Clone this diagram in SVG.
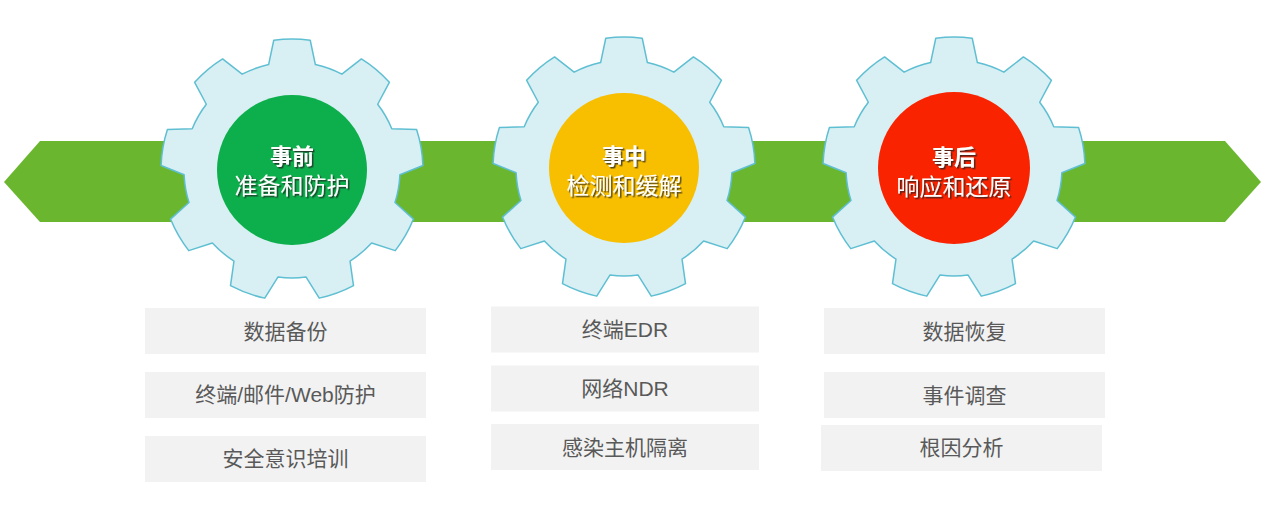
<svg xmlns="http://www.w3.org/2000/svg" width="1269" height="505" viewBox="0 0 1269 505">
<style>
.gear{fill:#d8eff4;stroke:#5fbfd2;stroke-width:1.5;stroke-linejoin:round}
.band{fill:#6ab72f}
.t1{font-family:"Noto Sans CJK SC","Liberation Sans",sans-serif;font-size:22px;font-weight:bold;fill:#ffffff;text-anchor:middle}
.t2{font-family:"Noto Sans CJK SC","Liberation Sans",sans-serif;font-size:23px;fill:#ffffff;text-anchor:middle}
.box{fill:#f2f2f2}
.bt{font-family:"Liberation Sans","Noto Sans CJK SC",sans-serif;font-size:21px;fill:#595959;text-anchor:middle}
</style>
<defs>
<path id="gearShape" d="M -23.38 -105.44 L -18.23 -129.73 A 131 131 0 0 1 18.23 -129.73 L 23.38 -105.44 A 108 108 0 0 1 49.87 -95.80 L 69.42 -111.09 A 131 131 0 0 1 97.35 -87.66 L 85.68 -65.75 A 108 108 0 0 1 99.78 -41.33 L 124.59 -40.48 A 131 131 0 0 1 130.92 -4.57 L 107.90 4.71 A 108 108 0 0 1 103.00 32.48 L 121.46 49.07 A 131 131 0 0 1 103.23 80.65 L 79.63 72.96 A 108 108 0 0 1 58.03 91.09 L 61.50 115.67 A 131 131 0 0 1 27.24 128.14 L 14.10 107.08 A 108 108 0 0 1 -14.10 107.08 L -27.24 128.14 A 131 131 0 0 1 -61.50 115.67 L -58.03 91.09 A 108 108 0 0 1 -79.63 72.96 L -103.23 80.65 A 131 131 0 0 1 -121.46 49.07 L -103.00 32.48 A 108 108 0 0 1 -107.90 4.71 L -130.92 -4.57 A 131 131 0 0 1 -124.59 -40.48 L -99.78 -41.33 A 108 108 0 0 1 -85.68 -65.75 L -97.35 -87.66 A 131 131 0 0 1 -69.42 -111.09 L -49.87 -95.80 A 108 108 0 0 1 -23.38 -105.44 Z"/>
<filter id="sh" x="-20%" y="-40%" width="140%" height="180%">
<feDropShadow dx="1.5" dy="1.5" stdDeviation="0.7" flood-color="#222222" flood-opacity="0.75"/>
</filter>
</defs>
<rect x="0" y="0" width="1269" height="505" fill="#ffffff"/>
<g id="connectors">
<polygon class="band" points="4,182 40,141 1225,141 1261,182 1225,222 40,222"/>
</g>
<g id="gear1">
<use href="#gearShape" class="gear" transform="translate(292,170)"/>
<circle cx="292" cy="170" r="75" fill="#0daf4c"/>
<g filter="url(#sh)">
<text class="t1" x="292" y="164">事前</text>
<text class="t2" x="292" y="194">准备和防护</text>
</g>
</g>
<g id="gear2">
<use href="#gearShape" class="gear" transform="translate(624,168)"/>
<circle cx="624" cy="168" r="75" fill="#f8be00"/>
<g filter="url(#sh)">
<text class="t1" x="624" y="164">事中</text>
<text class="t2" x="624" y="194">检测和缓解</text>
</g>
</g>
<g id="gear3">
<use href="#gearShape" class="gear" transform="translate(954,168)"/>
<circle cx="954" cy="168" r="76" fill="#fa2300"/>
<g filter="url(#sh)">
<text class="t1" x="954" y="165">事后</text>
<text class="t2" x="954" y="195">响应和还原</text>
</g>
</g>
<g id="box-l1"><rect class="box" x="145" y="308" width="281" height="46"/><text class="bt" x="285.5" y="338.5">数据备份</text></g>
<g id="box-l2"><rect class="box" x="145" y="372" width="281" height="46"/><text class="bt" x="285.5" y="402">终端/邮件/Web防护</text></g>
<g id="box-l3"><rect class="box" x="145" y="436" width="281" height="46"/><text class="bt" x="285.5" y="466">安全意识培训</text></g>
<g id="box-m1"><rect class="box" x="491" y="306.5" width="268" height="46"/><text class="bt" x="625" y="337">终端EDR</text></g>
<g id="box-m2"><rect class="box" x="491" y="365.5" width="268" height="46"/><text class="bt" x="625" y="396">网络NDR</text></g>
<g id="box-m3"><rect class="box" x="491" y="424" width="268" height="46"/><text class="bt" x="625" y="454.5">感染主机隔离</text></g>
<g id="box-r1"><rect class="box" x="824" y="308" width="281" height="46"/><text class="bt" x="964.5" y="338.5">数据恢复</text></g>
<g id="box-r2"><rect class="box" x="824" y="372" width="281" height="46"/><text class="bt" x="964.5" y="402.5">事件调查</text></g>
<g id="box-r3"><rect class="box" x="821" y="425" width="281" height="46"/><text class="bt" x="961.5" y="455">根因分析</text></g>
</svg>
